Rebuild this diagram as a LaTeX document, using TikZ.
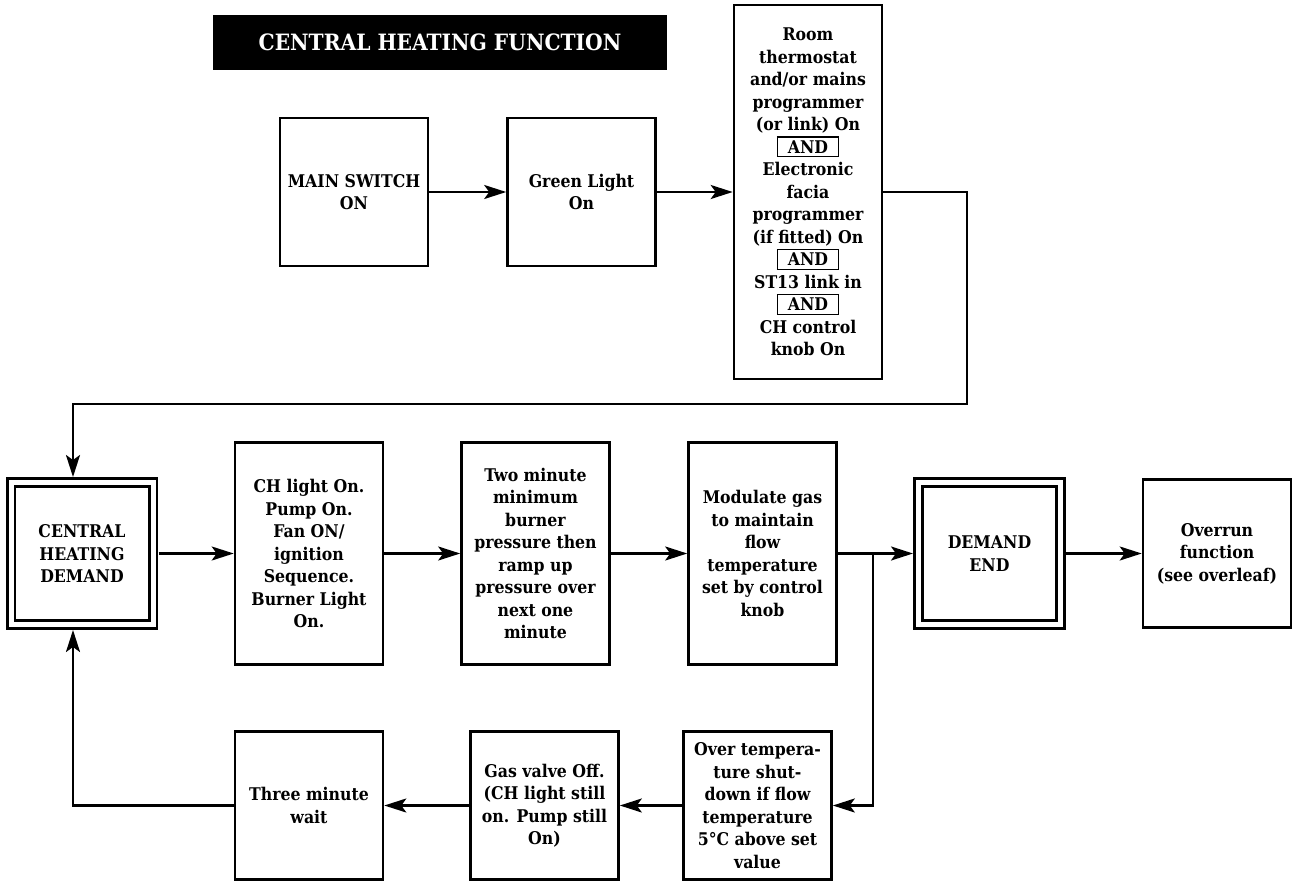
\documentclass[tikz,border=0pt]{standalone}
\usepackage{fontspec}
\setmainfont{DejaVu Serif Condensed}
\usetikzlibrary{arrows.meta}
\newcommand{\andbox}{{\setlength{\fboxrule}{1.2pt}\setlength{\fboxsep}{3pt}\fbox{\makebox[54pt]{AND}}}}

\begin{document}
\begin{tikzpicture}[
  x=1pt,y=-1pt,
  stepbox/.style={draw, line width=2.6pt, align=center, font=\fontsize{17.5}{22.5}\selectfont\bfseries, inner sep=2pt, minimum width=148pt, minimum height=148pt},
  endbox/.style={stepbox, double, double distance=5pt, line width=2.7pt, minimum width=142pt, minimum height=142pt, outer sep=5.5pt},
  titlebox/.style={fill=black, text=white, font=\fontsize{22.5}{26}\selectfont\bfseries, minimum width=454pt, minimum height=55pt},
  flow/.style={-{Stealth[length=22pt,width=14pt,inset=5pt]}, line width=2.4pt}
]
\useasboundingbox (0,0) rectangle (1296,881);

\node[titlebox] (title) at (440,42.5) {CENTRAL HEATING FUNCTION};

\node[stepbox] (mainsw) at (354,192) {MAIN SWITCH\\ON};
\node[stepbox] (green) at (581.5,192) {Green Light\\On};
\node[stepbox, minimum height=374pt] (cond) at (808,192)
  {Room\\thermostat\\and/or mains\\programmer\\(or link) On\\\andbox\\Electronic\\facia\\programmer\\(if fitted) On\\\andbox\\ST13 link in\\\andbox\\CH control\\knob On};

\node[endbox] (chdem) at (82,553.5) {CENTRAL\\HEATING\\DEMAND};
\node[stepbox, minimum height=222pt] (chlight) at (309,553.5)
  {CH light On.\\Pump On.\\Fan ON/\\ignition\\Sequence.\\Burner Light\\On.};
\node[stepbox, minimum height=222pt] (twomin) at (535.5,553.5)
  {Two minute\\minimum\\burner\\pressure then\\ramp up\\pressure over\\next one\\minute};
\node[stepbox, minimum height=222pt] (modgas) at (762.5,553.5)
  {Modulate gas\\to maintain\\flow\\temperature\\set by control\\knob};
\node[endbox] (dend) at (989.5,553.5) {DEMAND\\END};
\node[stepbox] (overrun) at (1217,553.5) {Overrun\\function\\(see overleaf)};

\node[stepbox] (overtemp) at (757.5,805.5)
  {Over tempera-\\ture shut-\\down if flow\\temperature\\5°C above set\\value};
\node[stepbox] (gasoff) at (544.5,805.5)
  {Gas valve Off.\\(CH light still\\on. Pump still\\On)};
\node[stepbox] (wait) at (309,805.5) {Three minute\\wait};

\coordinate (loopR) at (967,404);
\coordinate (split) at (873,553.5);

\draw[flow] (mainsw) -- (green);
\draw[flow] (green) -- (cond);
\draw[flow] (cond.east) -| (loopR) -| ([xshift=-9pt]chdem.north);
\draw[flow] (chdem) -- (chlight);
\draw[flow] (chlight) -- (twomin);
\draw[flow] (twomin) -- (modgas);
\draw[flow] (modgas) -- (dend);
\draw[flow] (dend) -- (overrun);
\draw[flow] (split) |- (overtemp.east);
\draw[flow] (overtemp) -- (gasoff);
\draw[flow] (gasoff) -- (wait);
\draw[flow] (wait.west) -| ([xshift=-9pt]chdem.south);
\end{tikzpicture}
\end{document}
